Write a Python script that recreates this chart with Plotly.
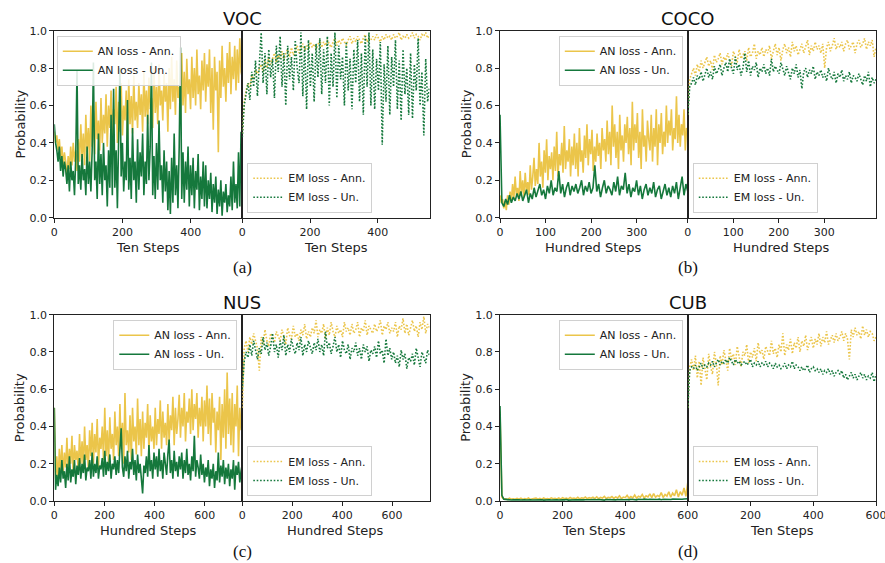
import numpy as np
import plotly.graph_objects as go

YELLOW = "#EBC54A"
GREEN = "#15783C"
FONT = "DejaVu Sans"

# ---------------- data ----------------
# VOC (Ten Steps)
voc_xmax_an, voc_xmax_em = 551, 553
voc_an_ann = [0.46,0.40,0.44,0.36,0.42,0.32,0.38,0.28,0.35,0.30,
              0.21,0.33,0.26,0.38,0.28,0.40,0.30,0.36,0.25,0.42,
              0.30,0.50,0.32,0.45,0.28,0.55,0.35,0.48,0.30,0.60,
              0.38,0.57,0.34,0.62,0.42,0.52,0.36,0.64,0.40,0.55,
              0.45,0.66,0.38,0.60,0.48,0.68,0.42,0.58,0.50,0.70,
              0.40,0.62,0.46,0.72,0.44,0.60,0.52,0.68,0.42,0.74,
              0.50,0.65,0.45,0.76,0.52,0.62,0.48,0.72,0.55,0.66,
              0.46,0.78,0.54,0.68,0.50,0.75,0.58,0.64,0.48,0.80,
              0.56,0.70,0.50,0.82,0.60,0.68,0.52,0.77,0.62,0.72,
              0.46,0.80,0.58,0.86,0.62,0.74,0.55,0.84,0.64,0.70,
              0.52,0.88,0.60,0.78,0.56,0.85,0.66,0.74,0.58,0.86,
              0.64,0.80,0.60,0.90,0.66,0.76,0.58,0.84,0.68,0.88,
              0.62,0.82,0.70,0.90,0.56,0.80,0.47,0.86,0.68,0.78,
              0.35,0.84,0.64,0.92,0.70,0.80,0.62,0.88,0.72,0.94,
              0.66,0.86,0.74,0.92,0.68,0.90,0.72,0.96,0.78,0.75]
voc_an_un = [0.50,0.40,0.36,0.30,0.38,0.25,0.33,0.22,0.30,0.26,
             0.18,0.28,0.14,0.30,0.20,0.25,0.12,0.32,0.79,0.18,
             0.28,0.15,0.34,0.20,0.26,0.12,0.38,0.18,0.30,0.14,
             0.36,0.83,0.20,0.30,0.10,0.45,0.18,0.34,0.12,0.40,
             0.20,0.28,0.06,0.36,0.16,0.55,0.12,0.69,0.16,0.36,
             0.05,0.34,0.80,0.22,0.40,0.14,0.30,0.20,0.63,0.15,
             0.32,0.10,0.48,0.20,0.30,0.08,0.42,0.15,0.35,0.22,
             0.45,0.12,0.30,0.18,0.55,0.20,0.38,0.83,0.12,0.33,
             0.10,0.40,0.15,0.52,0.20,0.28,0.08,0.36,0.14,0.30,
             0.04,0.25,0.02,0.32,0.08,0.45,0.12,0.28,0.05,0.38,
             0.91,0.10,0.35,0.08,0.30,0.15,0.38,0.06,0.28,0.12,
             0.32,0.05,0.25,0.15,0.34,0.04,0.22,0.10,0.30,0.06,
             0.28,0.05,0.20,0.10,0.24,0.03,0.18,0.08,0.22,0.02,
             0.15,0.06,0.20,0.01,0.14,0.08,0.18,0.03,0.12,0.06,
             0.22,0.04,0.30,0.08,0.18,0.05,0.35,0.06,0.46,0.10]
voc_em_ann = [0.45,0.62,0.68,0.72,0.70,0.76,0.74,0.79,0.77,0.80,
              0.82,0.78,0.84,0.80,0.86,0.82,0.85,0.88,0.83,0.87,
              0.85,0.89,0.84,0.88,0.90,0.86,0.91,0.87,0.89,0.92,
              0.88,0.91,0.93,0.89,0.92,0.90,0.94,0.91,0.93,0.90,
              0.93,0.95,0.91,0.94,0.92,0.95,0.93,0.91,0.94,0.96,
              0.92,0.95,0.93,0.96,0.94,0.92,0.95,0.97,0.93,0.96,
              0.94,0.97,0.95,0.93,0.96,0.98,0.94,0.96,0.95,0.97,
              0.95,0.98,0.96,0.94,0.97,0.95,0.98,0.96,0.97,0.95,
              0.98,0.96,0.97,0.99,0.95,0.97,0.96,0.98,0.96,0.97,
              0.99,0.96,0.98,0.97,0.95,0.98,0.97,0.99,0.96,0.98]
voc_em_un = [0.43,0.60,0.66,0.72,0.63,0.78,0.70,0.84,0.65,0.80,
             0.99,0.72,0.88,0.66,0.90,0.75,0.85,0.64,0.92,0.78,
             0.97,0.70,0.88,0.60,0.92,0.74,0.86,0.68,0.95,0.80,
             0.72,0.99,0.65,0.92,0.58,0.95,0.70,0.88,0.62,0.93,
             0.75,0.96,0.66,0.90,0.72,0.97,0.60,0.88,0.70,0.99,
             0.64,0.92,0.74,0.86,0.60,0.94,0.68,0.85,0.58,0.90,
             0.72,0.95,0.62,0.88,0.55,0.97,0.70,0.99,0.60,0.90,
             0.58,0.85,0.68,0.94,0.39,0.82,0.62,0.92,0.55,0.86,
             0.70,0.95,0.58,0.84,0.52,0.90,0.66,0.80,0.55,0.88,
             0.53,0.82,0.68,0.96,0.60,0.78,0.44,0.85,0.62,0.70]

# COCO (Hundred Steps)
coco_xmax_an, coco_xmax_em = 412, 414
coco_an_ann = [0.12,0.08,0.10,0.05,0.09,0.04,0.12,0.07,0.14,0.09,
               0.18,0.10,0.22,0.12,0.16,0.09,0.25,0.13,0.20,0.11,
               0.24,0.14,0.19,0.12,0.28,0.15,0.22,0.32,0.17,0.26,
               0.18,0.40,0.22,0.30,0.16,0.36,0.24,0.42,0.20,0.33,
               0.26,0.35,0.20,0.38,0.25,0.46,0.22,0.34,0.28,0.40,
               0.24,0.49,0.26,0.36,0.30,0.42,0.22,0.38,0.28,0.45,
               0.26,0.40,0.22,0.48,0.30,0.36,0.24,0.44,0.32,0.50,
               0.28,0.42,0.34,0.47,0.25,0.38,0.30,0.45,0.33,0.40,
               0.26,0.48,0.36,0.42,0.30,0.52,0.34,0.46,0.28,0.60,
               0.38,0.50,0.32,0.46,0.26,0.55,0.36,0.44,0.30,0.50,
               0.40,0.54,0.34,0.48,0.28,0.62,0.36,0.50,0.40,0.56,
               0.32,0.46,0.26,0.58,0.38,0.44,0.30,0.52,0.42,0.36,
               0.55,0.30,0.48,0.38,0.58,0.28,0.50,0.40,0.56,0.34,
               0.46,0.38,0.60,0.40,0.52,0.44,0.58,0.36,0.48,0.42,
               0.65,0.40,0.55,0.38,0.50,0.44,0.58,0.36,0.48,0.46]
coco_an_un = [0.55,0.08,0.06,0.10,0.07,0.12,0.08,0.11,0.09,0.13,
              0.10,0.14,0.09,0.12,0.15,0.08,0.13,0.10,0.16,0.11,
              0.14,0.18,0.12,0.15,0.10,0.17,0.13,0.20,0.12,0.16,
              0.14,0.25,0.13,0.18,0.11,0.16,0.19,0.12,0.17,0.14,
              0.18,0.13,0.16,0.20,0.12,0.17,0.14,0.19,0.13,0.16,
              0.28,0.14,0.18,0.11,0.16,0.20,0.13,0.17,0.15,0.12,
              0.19,0.14,0.22,0.12,0.17,0.15,0.24,0.13,0.18,0.11,
              0.16,0.14,0.20,0.12,0.17,0.10,0.15,0.18,0.12,0.16,
              0.13,0.19,0.11,0.15,0.17,0.10,0.14,0.18,0.12,0.16,
              0.11,0.17,0.13,0.19,0.10,0.15,0.22,0.12,0.18,0.14]
coco_em_ann = [0.55,0.74,0.77,0.80,0.76,0.82,0.78,0.84,0.80,0.83,
               0.86,0.81,0.84,0.79,0.87,0.83,0.85,0.88,0.82,0.86,
               0.84,0.88,0.85,0.81,0.89,0.86,0.83,0.90,0.85,0.87,
               0.89,0.84,0.91,0.86,0.88,0.93,0.85,0.89,0.87,0.91,
               0.86,0.90,0.88,0.92,0.85,0.89,0.93,0.87,0.91,0.84,
               0.90,0.93,0.88,0.91,0.86,0.94,0.89,0.92,0.87,0.90,
               0.93,0.88,0.91,0.95,0.87,0.92,0.89,0.94,0.90,0.92,
               0.88,0.93,0.80,0.91,0.94,0.89,0.92,0.96,0.90,0.93,
               0.91,0.94,0.89,0.93,0.95,0.90,0.92,0.94,0.88,0.93,
               0.95,0.91,0.93,0.96,0.90,0.94,0.92,0.95,0.86,0.91]
coco_em_un = [0.55,0.70,0.72,0.75,0.71,0.76,0.74,0.78,0.73,0.77,
              0.80,0.75,0.78,0.74,0.81,0.77,0.79,0.82,0.76,0.80,
              0.83,0.78,0.85,0.80,0.77,0.86,0.79,0.82,0.76,0.80,
              0.88,0.78,0.84,0.76,0.81,0.79,0.83,0.75,0.80,0.78,
              0.82,0.77,0.80,0.76,0.85,0.78,0.81,0.79,0.77,0.83,
              0.79,0.76,0.81,0.78,0.74,0.80,0.77,0.82,0.75,0.79,
              0.69,0.78,0.80,0.75,0.79,0.77,0.81,0.74,0.78,0.76,
              0.79,0.75,0.77,0.73,0.80,0.76,0.74,0.78,0.72,0.77,
              0.75,0.79,0.73,0.76,0.74,0.78,0.72,0.76,0.75,0.73,
              0.77,0.74,0.71,0.76,0.73,0.78,0.70,0.75,0.72,0.74]

# NUS (Hundred Steps)
nus_xmax_an, nus_xmax_em = 750, 750
nus_an_ann = [0.50,0.12,0.24,0.10,0.28,0.16,0.30,0.14,0.26,0.18,
              0.34,0.15,0.28,0.20,0.35,0.14,0.30,0.22,0.27,0.16,
              0.36,0.20,0.32,0.18,0.40,0.22,0.30,0.17,0.38,0.24,
              0.42,0.20,0.36,0.26,0.44,0.18,0.34,0.28,0.40,0.22,
              0.50,0.24,0.38,0.20,0.45,0.28,0.36,0.22,0.48,0.30,
              0.40,0.24,0.52,0.28,0.42,0.20,0.58,0.30,0.38,0.26,
              0.46,0.22,0.50,0.32,0.40,0.25,0.55,0.30,0.44,0.24,
              0.48,0.28,0.42,0.34,0.52,0.26,0.46,0.32,0.40,0.28,
              0.50,0.30,0.44,0.36,0.54,0.28,0.48,0.34,0.42,0.30,
              0.52,0.32,0.46,0.38,0.56,0.30,0.50,0.36,0.44,0.57,
              0.34,0.50,0.40,0.58,0.32,0.48,0.42,0.55,0.36,0.60,
              0.38,0.52,0.44,0.58,0.34,0.50,0.40,0.56,0.32,0.54,
              0.40,0.62,0.36,0.55,0.30,0.58,0.42,0.50,0.26,0.48,
              0.38,0.56,0.22,0.52,0.34,0.60,0.28,0.69,0.36,0.55,
              0.30,0.58,0.26,0.52,0.40,0.62,0.24,0.50,0.38,0.45]
nus_an_un = [0.50,0.06,0.14,0.08,0.18,0.10,0.22,0.12,0.16,0.07,
             0.20,0.11,0.24,0.10,0.17,0.13,0.22,0.09,0.19,0.14,
             0.23,0.12,0.20,0.15,0.25,0.11,0.18,0.16,0.22,0.12,
             0.26,0.13,0.20,0.15,0.24,0.12,0.19,0.17,0.23,0.13,
             0.27,0.14,0.21,0.16,0.25,0.12,0.20,0.17,0.24,0.14,
             0.22,0.15,0.28,0.39,0.18,0.13,0.24,0.16,0.27,0.12,
             0.21,0.17,0.28,0.14,0.22,0.11,0.25,0.15,0.20,0.13,
             0.04,0.19,0.15,0.24,0.13,0.30,0.16,0.22,0.12,0.26,
             0.17,0.24,0.13,0.28,0.16,0.22,0.12,0.26,0.18,0.14,
             0.25,0.33,0.15,0.22,0.12,0.27,0.16,0.21,0.13,0.24,
             0.17,0.26,0.12,0.22,0.15,0.28,0.14,0.20,0.11,0.24,
             0.16,0.35,0.13,0.22,0.18,0.12,0.25,0.14,0.20,0.10,
             0.18,0.13,0.22,0.08,0.17,0.12,0.20,0.07,0.16,0.11,
             0.26,0.10,0.19,0.13,0.22,0.09,0.18,0.12,0.20,0.08,
             0.17,0.12,0.22,0.06,0.19,0.14,0.21,0.10,0.16,0.20]
nus_em_ann = [0.50,0.82,0.86,0.80,0.88,0.84,0.90,0.85,0.82,0.70,
              0.88,0.84,0.92,0.86,0.83,0.90,0.87,0.85,0.91,0.88,
              0.86,0.92,0.88,0.84,0.93,0.89,0.87,0.94,0.88,0.90,
              0.86,0.92,0.89,0.95,0.87,0.91,0.88,0.93,0.90,0.97,
              0.88,0.92,0.90,0.95,0.87,0.93,0.89,0.96,0.91,0.88,
              0.94,0.90,0.92,0.88,0.96,0.91,0.93,0.89,0.95,0.90,
              0.92,0.96,0.88,0.93,0.91,0.97,0.89,0.94,0.92,0.90,
              0.95,0.91,0.93,0.97,0.89,0.94,0.92,0.96,0.90,0.93,
              0.91,0.96,0.88,0.94,0.92,0.98,0.90,0.95,0.89,0.93,
              0.97,0.91,0.94,0.88,0.96,0.92,0.99,0.90,0.95,0.93]
nus_em_un = [0.60,0.75,0.80,0.77,0.84,0.78,0.86,0.80,0.76,0.82,
             0.79,0.88,0.81,0.85,0.78,0.83,0.90,0.80,0.84,0.77,
             0.86,0.81,0.89,0.78,0.84,0.80,0.87,0.82,0.79,0.85,
             0.81,0.88,0.78,0.84,0.80,0.86,0.82,0.79,0.85,0.81,
             0.87,0.80,0.84,0.78,0.91,0.82,0.85,0.79,0.83,0.88,
             0.80,0.84,0.77,0.86,0.81,0.79,0.84,0.76,0.82,0.80,
             0.85,0.78,0.82,0.76,0.84,0.80,0.83,0.75,0.81,0.79,
             0.83,0.77,0.86,0.79,0.81,0.74,0.87,0.78,0.82,0.76,
             0.80,0.74,0.78,0.72,0.81,0.76,0.79,0.71,0.77,0.75,
             0.79,0.73,0.82,0.76,0.72,0.80,0.77,0.74,0.81,0.78]

# CUB (Ten Steps)
cub_xmax_an, cub_xmax_em = 600, 600
cub_an_ann = [0.48,0.020,0.010,0.012,0.008,0.015,0.010,0.012,0.009,0.014,
              0.010,0.015,0.008,0.013,0.010,0.016,0.009,0.012,0.011,0.015,
              0.010,0.014,0.009,0.016,0.011,0.013,0.010,0.017,0.012,0.014,
              0.011,0.016,0.010,0.018,0.012,0.015,0.011,0.019,0.013,0.016,
              0.012,0.020,0.011,0.017,0.014,0.021,0.012,0.018,0.015,0.020,
              0.013,0.022,0.012,0.019,0.016,0.025,0.013,0.020,0.017,0.024,
              0.014,0.022,0.016,0.028,0.013,0.021,0.018,0.030,0.015,0.024,
              0.017,0.032,0.015,0.026,0.020,0.035,0.016,0.028,0.022,0.038,
              0.018,0.040,0.020,0.030,0.024,0.045,0.019,0.035,0.026,0.050,
              0.020,0.042,0.028,0.060,0.022,0.050,0.030,0.070,0.025,0.100]
cub_an_un = [0.51,0.030,0.010,0.008,0.006,0.007,0.005,0.006,0.007,0.005,
             0.006,0.005,0.007,0.006,0.005,0.007,0.006,0.005,0.006,0.007,
             0.005,0.006,0.007,0.005,0.006,0.006,0.007,0.005,0.006,0.007,
             0.006,0.005,0.007,0.006,0.006,0.008,0.005,0.006,0.007,0.006,
             0.007,0.006,0.005,0.008,0.006,0.007,0.006,0.005,0.007,0.008,
             0.006,0.007,0.008,0.006,0.007,0.005,0.008,0.007,0.006,0.008,
             0.007,0.006,0.008,0.007,0.009,0.006,0.007,0.008,0.006,0.009,
             0.007,0.008,0.006,0.009,0.007,0.008,0.010,0.007,0.008,0.009,
             0.008,0.007,0.009,0.008,0.010,0.007,0.009,0.008,0.010,0.009,
             0.008,0.010,0.009,0.011,0.008,0.010,0.009,0.011,0.010,0.012]
cub_em_ann = [0.50,0.72,0.76,0.70,0.78,0.66,0.75,0.62,0.77,0.70,
              0.65,0.79,0.72,0.68,0.80,0.74,0.62,0.78,0.73,0.81,
              0.75,0.70,0.82,0.76,0.79,0.73,0.83,0.77,0.72,0.80,
              0.78,0.84,0.74,0.80,0.77,0.82,0.75,0.85,0.79,0.81,
              0.76,0.83,0.80,0.78,0.86,0.79,0.82,0.77,0.84,0.80,
              0.90,0.78,0.84,0.81,0.87,0.79,0.85,0.82,0.88,0.80,
              0.86,0.83,0.89,0.81,0.85,0.88,0.82,0.87,0.84,0.90,
              0.83,0.88,0.85,0.91,0.84,0.87,0.89,0.85,0.90,0.86,
              0.88,0.91,0.86,0.90,0.87,0.76,0.92,0.88,0.93,0.89,
              0.91,0.87,0.94,0.89,0.92,0.88,0.91,0.90,0.86,0.88]
cub_em_un = [0.50,0.70,0.72,0.71,0.73,0.70,0.72,0.74,0.71,0.73,
             0.72,0.74,0.73,0.75,0.72,0.74,0.76,0.73,0.75,0.74,
             0.76,0.74,0.77,0.75,0.73,0.76,0.74,0.75,0.73,0.74,
             0.75,0.73,0.74,0.76,0.72,0.74,0.73,0.75,0.72,0.74,
             0.73,0.75,0.72,0.74,0.73,0.71,0.74,0.72,0.73,0.71,
             0.72,0.74,0.71,0.73,0.72,0.75,0.71,0.73,0.72,0.70,
             0.72,0.70,0.71,0.73,0.69,0.71,0.72,0.70,0.71,0.69,
             0.71,0.68,0.70,0.69,0.71,0.68,0.70,0.67,0.69,0.70,
             0.68,0.70,0.66,0.68,0.65,0.67,0.69,0.66,0.68,0.65,
             0.67,0.69,0.66,0.68,0.65,0.67,0.66,0.69,0.64,0.68]

titles = ["VOC", "COCO", "NUS", "CUB"]
captions = ["(a)", "(b)", "(c)", "(d)"]
xlabels = ["Ten Steps", "Hundred Steps", "Hundred Steps", "Ten Steps"]
xtick_sets = [[0, 200, 400], [0, 100, 200, 300], [0, 200, 400, 600], [0, 200, 400, 600]]
ytick_vals = [0.0, 0.2, 0.4, 0.6, 0.8, 1.0]
legend_names = ["AN loss - Ann.", "AN loss - Un.", "EM loss - Ann.", "EM loss - Un."]

panel_data = [
    (voc_xmax_an, voc_xmax_em, voc_an_ann, voc_an_un, voc_em_ann, voc_em_un),
    (coco_xmax_an, coco_xmax_em, coco_an_ann, coco_an_un, coco_em_ann, coco_em_un),
    (nus_xmax_an, nus_xmax_em, nus_an_ann, nus_an_un, nus_em_ann, nus_em_un),
    (cub_xmax_an, cub_xmax_em, cub_an_ann, cub_an_un, cub_em_ann, cub_em_un),
]

# ---------------- layout geometry (pixels) ----------------
W, H = 885, 563
cols = [(54.3, 242.3, 429.5), (500.0, 687.8, 876.0)]
rows = [(30.7, 217.7), (314.7, 501.0)]

def fx(p):
    return p / W

def fy(p):
    return 1 - p / H

fig = go.Figure()
layout = dict(
    template="none",
    width=W, height=H, margin=dict(l=0, r=0, t=0, b=0, pad=0, autoexpand=False),
    paper_bgcolor="white", plot_bgcolor="white",
    font=dict(family=FONT, size=11, color="#222"),
    annotations=[],
)

def ax_key(kind, k):
    return f"{kind}axis" if k == 1 else f"{kind}axis{k}"

def ax_ref(kind, k):
    return kind if k == 1 else f"{kind}{k}"

def leg_key(k):
    return "legend" if k == 1 else f"legend{k}"

for p in range(4):
    r, c = divmod(p, 2)
    x0, xm, x1 = cols[c]
    ytop, ybot = rows[r]
    xmax_an, xmax_em, an_ann, an_un, em_ann, em_un = panel_data[p]
    for side in range(2):
        k = p * 2 + side + 1
        if side == 0:
            dom = [fx(x0), fx(xm)]
            xmax = xmax_an
            series = [(an_ann, YELLOW, "solid", 1.6, legend_names[0]),
                      (an_un, GREEN, "solid", 1.6, legend_names[1])]
        else:
            dom = [fx(xm), fx(x1)]
            xmax = xmax_em
            series = [(em_ann, YELLOW, "1.6px,1.8px", 1.6, legend_names[2]),
                      (em_un, GREEN, "1.6px,1.8px", 1.6, legend_names[3])]
        for vals, col, dash, lw, name in series:
            xs = np.linspace(0, xmax, len(vals))
            fig.add_trace(go.Scatter(
                x=xs, y=vals, mode="lines", name=name,
                line=dict(color=col, width=lw, dash=dash),
                xaxis=ax_ref("x", k), yaxis=ax_ref("y", k),
                legend=leg_key(k), showlegend=True, hoverinfo="skip"))
        tickvals = xtick_sets[p]
        ticktext = [str(v) for v in tickvals]
        if p == 3 and side == 1:
            ticktext[0] = ""  # hidden behind the "600" of the left axis
        layout[ax_key("x", k)] = dict(
            domain=dom, anchor=ax_ref("y", k), range=[0, xmax], automargin=False,
            tickvals=tickvals, ticktext=ticktext, ticks="outside", ticklen=4, tickwidth=1,
            tickcolor="#222", showline=True, linecolor="#222", linewidth=1,
            mirror=True, showgrid=False, zeroline=False, ticklabeloverflow="allow",
            tickfont=dict(family=FONT, size=11, color="#222"))
        layout[ax_key("y", k)] = dict(
            domain=[fy(ybot), fy(ytop)], anchor=ax_ref("x", k), range=[0, 1],
            automargin=False, tickvals=ytick_vals, tickformat=".1f",
            ticks="outside" if side == 0 else "", ticklen=4, tickwidth=1,
            tickcolor="#222", showticklabels=(side == 0),
            showline=True, linecolor="#222", linewidth=1, mirror=True,
            showgrid=False, zeroline=False,
            tickfont=dict(family=FONT, size=11, color="#222"))
        # legends
        if side == 0:
            if p == 0:
                lx, ly, xa, ya = fx(x0 + 2.5), fy(ytop + 5), "left", "top"
            else:
                lx, ly, xa, ya = fx(xm - 5), fy(ytop + 5), "right", "top"
        else:
            lx, ly, xa, ya = fx(xm + 5), fy(ybot - 5), "left", "bottom"
        layout[leg_key(k)] = dict(
            x=lx, y=ly, xanchor=xa, yanchor=ya, xref="paper", yref="paper",
            bgcolor="rgba(255,255,255,0.85)", bordercolor="#d0d0d0", borderwidth=1,
            font=dict(family=FONT, size=11, color="#222"),
            itemwidth=30, tracegroupgap=0)
        # x-axis label
        layout["annotations"].append(dict(
            text=xlabels[p], x=(dom[0] + dom[1]) / 2, y=fy(ybot + 29.5),
            xref="paper", yref="paper", showarrow=False,
            xanchor="center", yanchor="middle",
            font=dict(family=FONT, size=13, color="#222")))
    # title, caption, y label
    layout["annotations"].append(dict(
        text=titles[p], x=fx(xm), y=fy(ytop - 12), xref="paper", yref="paper",
        showarrow=False, xanchor="center", yanchor="middle",
        font=dict(family=FONT, size=18, color="#111")))
    layout["annotations"].append(dict(
        text=captions[p], x=fx(xm), y=fy(ybot + 50), xref="paper", yref="paper",
        showarrow=False, xanchor="center", yanchor="middle",
        font=dict(family="Liberation Serif", size=17, color="#111")))
    layout["annotations"].append(dict(
        text="Probability", x=fx(x0 - 34), y=fy((ytop + ybot) / 2),
        xref="paper", yref="paper", showarrow=False, textangle=-90,
        xanchor="center", yanchor="middle",
        font=dict(family=FONT, size=13, color="#222")))

fig.update_layout(**layout)
fig.write_html(
    "out.html",
    config={"displayModeBar": False},
    post_script="document.body.style.margin='0';document.body.style.padding='0';"
                "document.body.style.overflow='hidden';")
